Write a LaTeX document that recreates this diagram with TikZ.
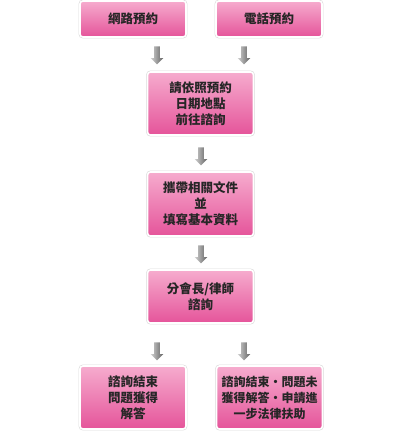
\documentclass[tikz,border=0pt]{standalone}
\usepackage{fontspec}
\usepackage{tikz}
\usetikzlibrary{shapes.arrows, positioning}
\newfontfamily\cjk{Noto Sans CJK TC}
\definecolor{pinktop}{RGB}{246,172,206}
\definecolor{pinkbot}{RGB}{229,84,154}
\tikzset{
    stepbox/.style={rectangle, rounded corners=3pt, top color=pinktop, bottom color=pinkbot,
                    draw=white, line width=1.6pt,
                    preaction={draw=black!14, line width=2.8pt},
                    align=center, inner sep=2pt, font=\cjk\bfseries\fontsize{12.5}{16}\selectfont,
                    text=black!85},
    smallbox/.style={stepbox, minimum width=106pt},
    flowarrow/.style={single arrow, rotate=-90, draw=none, inner sep=2.6pt,
                      single arrow head extend=3.6pt, single arrow head indent=0pt,
                      minimum height=18pt, left color=black!18, right color=black!62},
}

\begin{document}
\begin{tikzpicture}[x=1pt, y=-1pt]
    \useasboundingbox (0,0) rectangle (412,434);
    % appointment
    \node[smallbox, minimum height=36pt] (web) at (133,19) {網路預約};
    \node[smallbox, minimum height=36pt] (phone) at (269,19) {電話預約};
    \node[flowarrow] (arrA) at (157,54) {};
    \node[flowarrow] (arrB) at (244,54) {};
    % visit
    \node[smallbox, minimum height=63pt] (visit) at (200.5,103.5) {請依照預約\\日期地點\\前往諮詢};
    \node[flowarrow] (arrC) at (201,155) {};
    \node[smallbox, minimum height=64pt] (docs) at (200.5,204) {攜帶相關文件\\並\\填寫基本資料};
    \node[flowarrow] (arrD) at (201,253) {};
    \node[smallbox, minimum height=53pt] (consult) at (200.5,296.5) {分會長/律師\\諮詢};
    \node[flowarrow] (arrE) at (157,350) {};
    \node[flowarrow] (arrF) at (244,350) {};
    % results
    \node[smallbox, minimum height=63pt] (done) at (133,397.5) {諮詢結束\\問題獲得\\解答};
    \node[smallbox, minimum height=63pt, font=\cjk\bfseries\fontsize{12}{16}\selectfont] (further) at (269.5,397.5)
        {諮詢結束・問題未\\獲得解答・申請進\\一步法律扶助};
\end{tikzpicture}
\end{document}
